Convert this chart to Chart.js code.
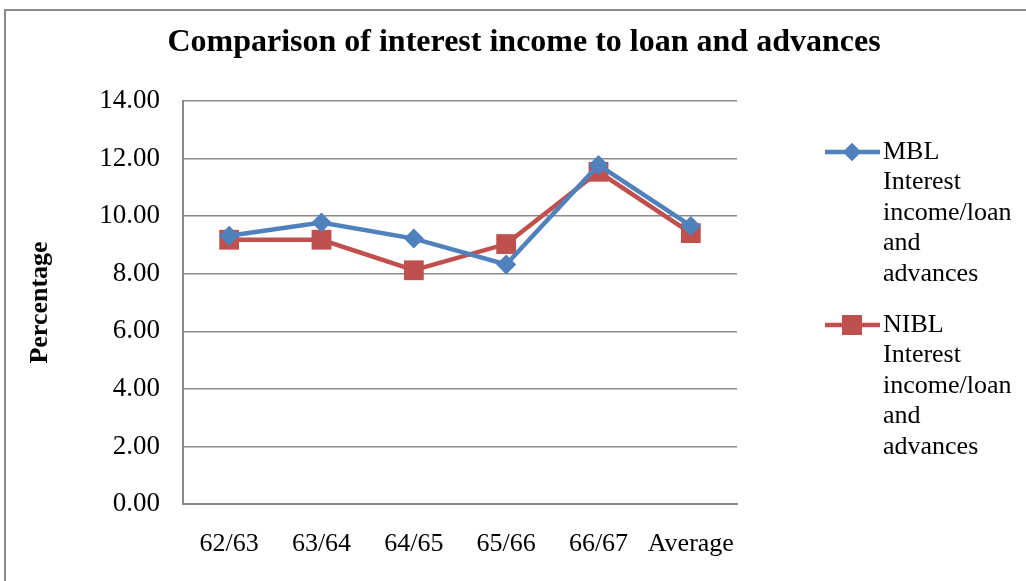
<!DOCTYPE html>
<html>
<head>
<meta charset="utf-8">
<script src="https://cdn.jsdelivr.net/npm/chart.js@4.4.0/dist/chart.umd.min.js"></script>
<style>
  html, body { margin: 0; padding: 0; background: #fff; }
  #wrap { position: relative; width: 1026px; height: 581px; }
  #frame { position: absolute; left: 4px; top: 9px; right: -4px; bottom: -4px;
           border-left: 2px solid #8a8a8a; border-top: 2px solid #8a8a8a; }
  canvas { position: absolute; left: 0; top: 0; }
</style>
</head>
<body>
<div id="wrap">
  <div id="frame"></div>
  <canvas id="chart" width="1026" height="581"></canvas>
</div>
<script>
// values
const years = ['62/63', '63/64', '64/65', '65/66', '66/67', 'Average'];
const mblRatio = [9.32, 9.78, 9.22, 8.32, 11.78, 9.66];
const niblRatio = [9.18, 9.18, 8.12, 9.03, 11.54, 9.41];
const mblLegend = ['MBL', 'Interest', 'income/loan', 'and', 'advances'];
const niblLegend = ['NIBL', 'Interest', 'income/loan', 'and', 'advances'];
const chartTitle = 'Comparison of interest income to loan and advances';

const blue = '#4F81BD';
const red = '#C0504D';
const grid = '#8a8a8a';
const serif = "'Liberation Serif', 'Times New Roman', serif";

// title centred on the whole frame and a legend with wrapped text
const sideLegend = {
    id: 'sideLegend',
    afterDraw(chart) {
        const ctx = chart.ctx;
        ctx.save();
        ctx.fillStyle = '#000';
        ctx.textBaseline = 'middle';
        ctx.textAlign = 'center';
        ctx.font = 'bold 32px ' + serif;
        ctx.fillText(chartTitle, 524, 43);

        const entries = [
            { lines: mblLegend, color: blue, shape: 'rectRot', r: 9, y: 152 },
            { lines: niblLegend, color: red, shape: 'rect', r: 14, y: 325 }
        ];
        ctx.font = '26px ' + serif;
        ctx.textAlign = 'left';
        for (let e of entries) {
            ctx.strokeStyle = e.color;
            ctx.lineWidth = 4.5;
            ctx.beginPath();
            ctx.moveTo(825, e.y);
            ctx.lineTo(880, e.y);
            ctx.stroke();
            ctx.fillStyle = e.color;
            Chart.helpers.drawPoint(ctx, { pointStyle: e.shape, radius: e.r, borderWidth: 0 }, 852, e.y);
            ctx.fill();
            ctx.fillStyle = '#000';
            for (let i = 0; i < e.lines.length; i++) {
                ctx.fillText(e.lines[i], 883, e.y + i * 30.5);
            }
        }
        ctx.restore();
    }
};

new Chart(document.getElementById('chart'), {
    type: 'line',
    data: {
        labels: years,
        datasets: [{
            label: 'MBL Interest income/loan and advances',
            data: mblRatio,
            borderColor: blue,
            backgroundColor: blue,
            borderWidth: 4.5,
            pointStyle: 'rectRot',
            pointRadius: 10,
            pointBorderWidth: 0,
            tension: 0
        }, {
            label: 'NIBL Interest income/loan and advances',
            data: niblRatio,
            borderColor: red,
            backgroundColor: red,
            borderWidth: 4.5,
            pointStyle: 'rect',
            pointRadius: 14,
            pointBorderWidth: 0,
            tension: 0
        }]
    },
    options: {
        responsive: false,
        animation: false,
        layout: { padding: { left: 25, right: 289, top: 101, bottom: 0 } },
        plugins: {
            legend: { display: false },
            tooltip: { enabled: false },
            title: { display: false }
        },
        scales: {
            x: {
                offset: true,
                afterFit(scale) { scale.height = 77; },
                grid: { display: false, drawTicks: false },
                border: { color: grid, width: 2 },
                ticks: {
                    color: '#000',
                    font: { family: serif, size: 26 },
                    padding: 25,
                    maxRotation: 0,
                    autoSkip: false
                }
            },
            y: {
                min: 0,
                max: 14,
                afterFit(scale) { scale.width = 158; },
                grid: { color: grid, lineWidth: 1.5, drawTicks: false },
                border: { color: grid, width: 2 },
                ticks: {
                    stepSize: 2,
                    color: '#000',
                    font: { family: serif, size: 27 },
                    padding: 23,
                    callback: v => v.toFixed(2)
                },
                title: {
                    display: true,
                    text: 'Percentage',
                    color: '#000',
                    font: { family: serif, size: 26, weight: 'bold' },
                    padding: { top: 0, bottom: 0 }
                }
            }
        }
    },
    plugins: [sideLegend]
});
</script>
</body>
</html>
